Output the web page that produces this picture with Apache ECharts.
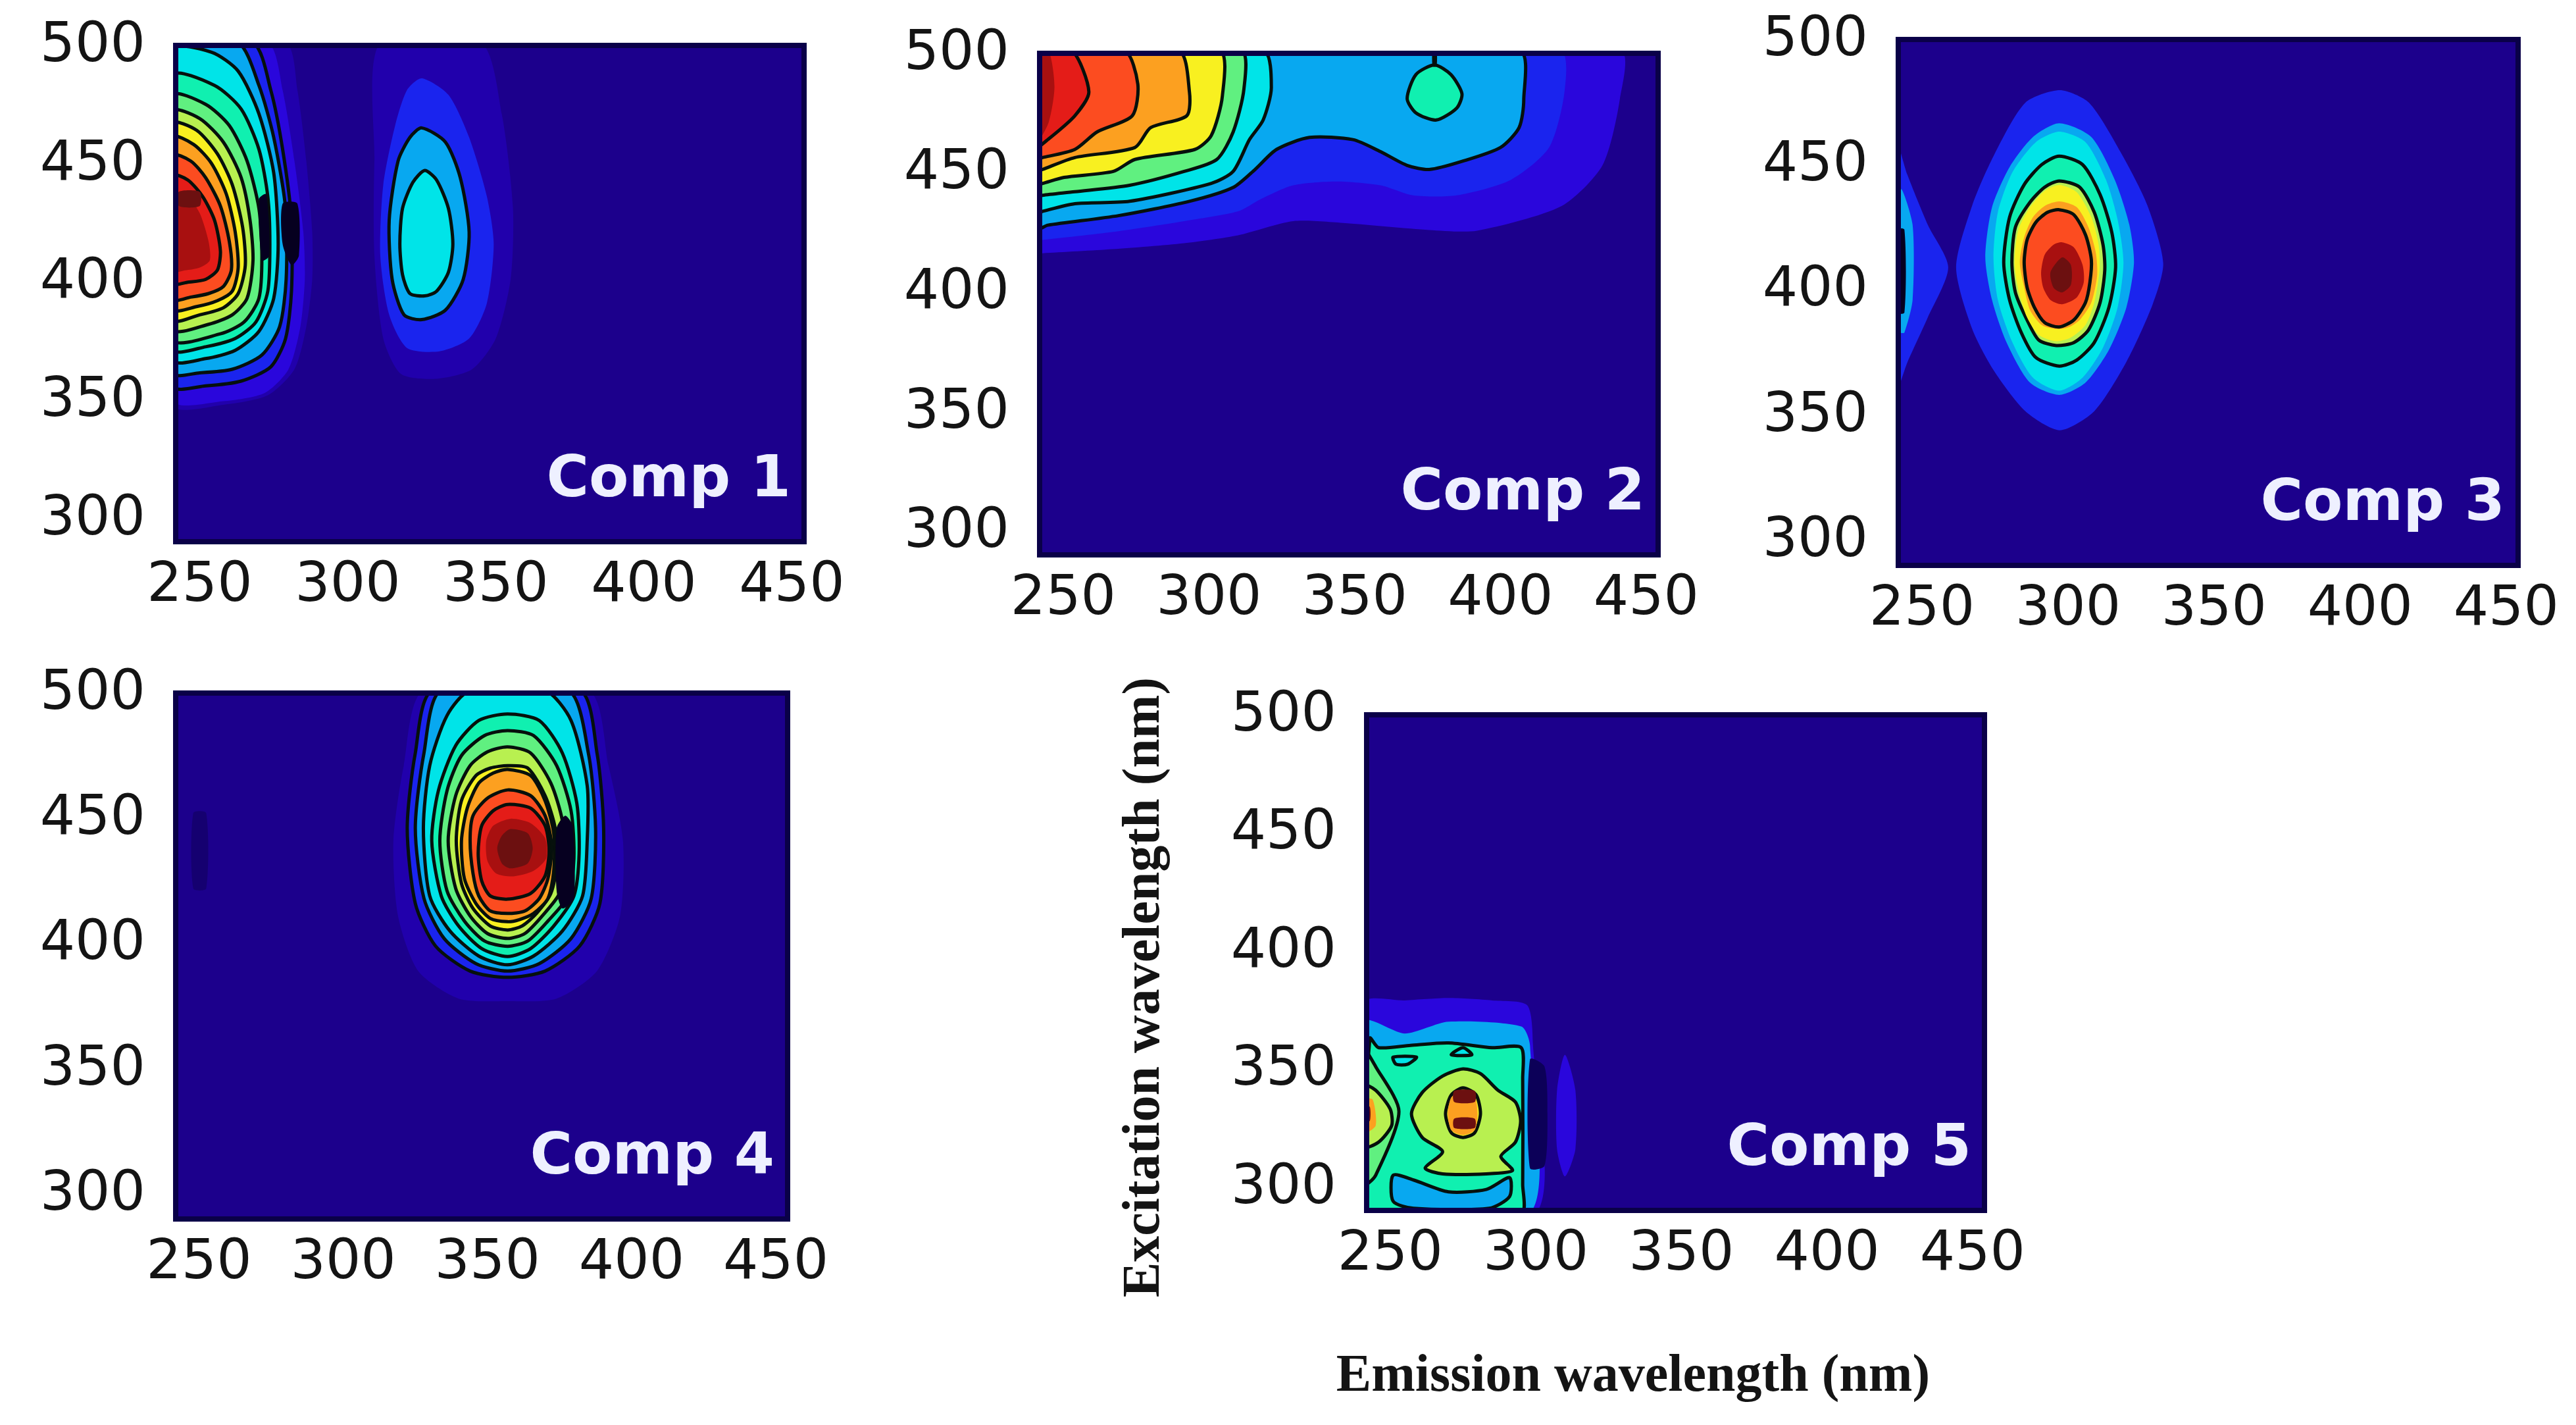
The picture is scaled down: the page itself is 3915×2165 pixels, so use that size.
<!DOCTYPE html>
<html><head><meta charset="utf-8">
<style>html,body{margin:0;padding:0;background:#fff}#c{width:3915px;height:2165px}</style>
<script src="https://cdn.jsdelivr.net/npm/echarts@6/dist/echarts.min.js"></script>
</head><body><div id="c"></div>
<script>
// Tick labels (nm)
const emissionTicks = [250, 300, 350, 400, 450];
const excitationTicks = [300, 350, 400, 450, 500];
const panelNames = ['Comp 1', 'Comp 2', 'Comp 3', 'Comp 4', 'Comp 5'];
const xTitle = 'Emission wavelength (nm)';
const yTitle = 'Excitation wavelength (nm)';

// Fill colour of each contour level
const levelColors = ['#2100ac','#2a06dc','#1a24ee','#0878f0','#08a8f0','#00e4e8','#10f0b0','#60f080','#b8f050','#f8f020','#fca020','#fc4c20','#e41c18','#a81010','#6c1010','#060020','#0c0058','#150070'];

// Contours: [level, outlined, [[emission, excitation], ...]]
const comp1 = [
 [0,0,[[241,500],[279,500],[283,480],[286,450],[288,420],[288,400],[286,380],[282,362],[273,351],[258,347],[241,347]]],
 [1,0,[[241,500],[273,500],[278,480],[282,450],[285,420],[285.5,400],[284,380],[280,362],[272,352],[258,348.5],[241,349]]],
 [2,1,[[241,500],[268,500],[274,480],[278,455],[281,425],[281,395],[279,375],[274,363],[264,357],[252,355],[241,355]]],
 [4,1,[[241,500],[263,500],[270,482],[275,460],[279,430],[279.2,400],[277,380],[271,368],[261,362],[250,360.5],[241,360.5]]],
 [5,1,[[241,497],[254,496],[263,488],[270,470],[275,445],[276.5,415],[275,392],[270,378],[262,370],[252,366.5],[241,366]]],
 [6,1,[[241,486],[255,482],[264,472],[270,455],[273,435],[273.7,415],[273,395],[269,382],[262,375],[252,371.5],[241,370.5]]],
 [7,1,[[241,477.6],[252,474],[260,465],[266,450],[270,430],[271,410],[270,392],[265,382],[257,377],[241,374.7]]],
 [8,1,[[241,471],[250,468],[258,458],[264,443],[267,425],[268,408],[266,392],[261,385],[253,381],[241,379]]],
 [9,1,[[241,465.8],[249,463],[256,453],[261,440],[264.5,422],[265.4,406],[263,394],[258,388],[250,385],[241,383]]],
 [10,1,[[241,460],[248,457],[254,449],[259,436],[262,420],[263,405],[261,395],[256,391],[249,388.5],[241,387.4]]],
 [11,1,[[241,452.3],[247,450],[252,443],[257,431],[260,416],[260.7,404],[258,397],[253,394],[247,392.5],[241,391.6]]],
 [12,1,[[241,443.8],[246,442],[251,435],[255,425],[257,412],[256,404],[252,400],[246,398.8],[241,398.3]]],
 [13,0,[[241,437],[246,435],[250,428],[253,416],[253.4,408],[250,405],[245,403.8],[241,403.4]]],
 [14,0,[[243,437],[250,437],[250,431],[243,431]]],
 [15,0,[[278,432],[283,432],[283.5,410],[281,406],[278,415]]],
 [15,0,[[270,434],[272.5,436],[273.5,410],[271,408]]],
 [0,0,[[311,500],[345,500],[352,470],[355.8,430],[355,400],[350,375],[342,362],[330,358],[318,360],[312,375],[309,410],[309,450]]],
 [2,0,[[325,485],[334,478],[341,460],[347,435],[349.3,415],[347,390],[341,375],[331,369.6],[320,371],[314,385],[311,410],[312,440],[316,465],[320,480]]],
 [4,1,[[325,464],[333,458],[338,443],[341,420],[339,400],[333,387],[325,383],[319,385],[315,400],[314,425],[317,450],[321,460]]],
 [5,1,[[326,446],[330,442],[334,430],[335.5,415],[334,403],[330,395],[326,393],[321,394],[318.5,402],[317.6,415],[318.5,430],[322,441]]]
];
const comp2 = [
 [1,0,[[441,500],[441,480],[435,452],[421,435],[392,424.7],[375.6,425],[347.5,427.8],[328.9,428.7],[310,422.8],[291.5,419.5],[267,417],[243,415.3],[241,415],[241,500]]],
 [2,0,[[420.4,500],[422,483],[416.7,459.5],[403.6,446],[385,439.5],[370,439.5],[358.8,443.7],[343.8,445.3],[328.9,443.7],[317.6,437.8],[310,432.8],[291.5,428.7],[269,424.5],[243.8,421],[241,421],[241,500]]],
 [4,1,[[406.4,500],[408,479.5],[406.4,467.8],[400,459.5],[386.8,453.7],[375.6,450.3],[368,452],[358.8,457.8],[349.4,462.8],[334.5,463.7],[323.2,458.7],[315.8,450.3],[308.3,442.8],[293.3,437],[269,431],[244.7,427],[241,425.5],[241,500]]],
 [5,1,[[318.6,500],[321.4,484.5],[318.6,471],[313.9,462.8],[308.3,449.5],[300.8,444.5],[272.8,437],[254,436],[242.9,432.8],[241,432],[241,500]]],
 [7,1,[[311,500],[312,484],[308.3,466],[302.7,454.5],[291.5,449.5],[272.8,443.7],[254,441],[242.9,439.5],[241,439],[241,500]]],
 [9,1,[[303.6,500],[304.6,481],[300.8,464.5],[295.2,458.7],[274.6,454.5],[267.2,449.5],[250.3,447],[243,444.5],[241,444],[241,500]]],
 [10,1,[[289.6,500],[293.3,482.8],[292.4,472.8],[280,467.8],[274.6,459.5],[254,455.3],[242.9,450.3],[241,449.5],[241,500]]],
 [11,1,[[271,500],[275.6,486],[273.7,472.8],[261.6,466],[254,458.7],[242.9,455.3],[241,455],[241,500]]],
 [12,1,[[253,500],[258.8,482.8],[254,472.8],[244.7,462.8],[241,460],[241,500]]],
 [13,0,[[241,500],[245,500],[247,485],[245,470],[241,462]]],
 [6,1,[[377.4,494],[383,490],[386.8,482],[385,476],[378,471],[371,474],[368,480],[371,490]]],
 [6,1,[[377.2,500],[377.6,500],[377.6,494],[377.2,494]]]
];
const comp3 = [
 [2,0,[[241,459],[245,445],[252,425],[259,408],[252,388],[245,370],[241,358]]],
 [4,0,[[242.8,439],[246.8,425],[246.8,395],[244,382],[242.8,382]]],
 [15,0,[[241,423],[244,423],[244,390],[241,390]]],
 [2,0,[[297.2,478.7],[307.2,473.7],[318,454],[327.2,432.7],[332.6,409.7],[329,393.3],[320,370.3],[309,350.6],[297.2,343],[285.4,350.6],[274.5,367],[267.2,383.4],[261.7,408],[267.2,432.7],[274.5,452.4],[285.4,473.7]]],
 [4,0,[[297,465.5],[308,460],[316,443],[321,425],[322.6,410],[320,392],[314,375],[306,362],[297,357.1],[287,362],[279,378],[274,395],[271.7,412],[274,432],[280,448],[288,460]]],
 [5,0,[[297,462.2],[306,458],[313,443],[317,427],[319,410],[317,392],[312,376],[305,364],[297,358.8],[288,364],[281,378],[276,395],[274.5,412],[276,430],[281,446],[289,458]]],
 [6,1,[[297,452.4],[305,449],[311,437],[315,422],[316.3,408],[314,392],[309,378],[303,371],[297,368.6],[289,372],[284,382],[280,395],[278,410],[280,428],[285,441],[291,449]]],
 [8,1,[[297,442.5],[304,440],[309,430],[312,417],[312.6,407],[311,394],[307,383],[302,378],[296,376.8],[290,379],[286,387],[282,398],[280.8,410],[282,424],[287,434],[292,440]]],
 [9,0,[[297,440.9],[303,438],[308,428],[310.5,417],[310.8,407],[309,394],[306,385],[301,380],[296,378.5],[290,381],[286,388],[283,399],[281.7,410],[283,423],[287,432],[292,438.5]]],
 [10,0,[[297,434.3],[303,432],[307,424],[309.5,414],[310,405],[308,394],[304,387],[300,384],[296,383.4],[291,385],[287,391],[285,400],[283.5,410],[285,420],[288,428],[292,432.5]]],
 [11,1,[[297,431],[302,429],[306,421],[308,411],[307.5,402],[306,394],[302,387],[297,384.2],[292,386],[288.5,392],[286,400],[285,410],[286,419],[289,426],[293,430]]],
 [13,0,[[298,418],[302,416],[305,409],[305.4,402],[303,396],[298,393.3],[294,395],[291.5,400],[290.8,406],[292,413],[295,417]]],
 [14,0,[[298,412],[301,409],[301,401],[298,398],[295,400],[294,406]]]
];
const comp4 = [
 [17,0,[[248,451],[252.5,451],[252.5,421],[248,421]]],
 [0,0,[[328,500],[385,500],[392,470],[397,440],[396,410],[388,388],[374,377],[357,376],[340,377],[326,388],[319,410],[317.4,440],[321,470]]],
 [2,1,[[331,500],[382,500],[388,475],[390.3,445],[389,415],[382,398],[370,388],[357,385.5],[344,388],[332,398],[325,415],[322.2,445],[325,475]]],
 [4,1,[[334,500],[378,500],[385,475],[387.5,445],[386,417],[379,401],[368,391],[357,388],[346,391],[335,401],[328,417],[325,445],[328,475]]],
 [5,1,[[344,500],[370,500],[379,488],[384.6,462],[384.6,440],[383,418],[376,404],[366,394],[357,390.5],[347,394],[337,404],[330,418],[327.8,445],[330,470],[336,490]]],
 [6,1,[[357,490.6],[368,488],[376,475],[381,455],[381.8,435],[380,418],[373,406],[365,397],[357,393.8],[348,397],[340,406],[334,418],[330.7,440],[333,460],[339,478],[347,488]]],
 [7,1,[[357,484],[366,482],[374,470],[379,452],[380,433],[378,418],[371,408],[364,400],[357,397.9],[349,400],[342,408],[336,420],[333.5,440],[336,460],[341,474],[349,482]]],
 [8,1,[[357,477.5],[365,475],[372,463],[376,448],[377,432],[375,419],[369,410],[363,403],[357,401],[350,403],[344,410],[339,421],[336.4,440],[339,458],[344,470],[350,475.5]]],
 [9,1,[[357,470],[364,469],[370,458],[373.5,445],[374,430],[372,419],[367,411],[362,406],[357,404.4],[351,406],[345,413],[341,423],[339.2,440],[341,456],[346,466],[351,469]]],
 [10,1,[[357,468.5],[365,466],[370,456],[373,443],[373,428],[371,417],[366,411],[361,408.5],[357,407.7],[351,409],[346,415],[342,425],[341,440],[343,453],[347,463],[352,467]]],
 [11,1,[[357,460.3],[365,458],[370,450],[372.3,438],[371,425],[368,417],[363,412],[357,411],[351,412],[347,418],[345,427],[344,440],[345,450],[350,457]]],
 [12,1,[[357,454.5],[365,453],[370,446],[371.4,436],[370,426],[365,419],[357,416.7],[351,418],[348,424],[346.8,435],[348,446],[352,452]]],
 [13,0,[[358,448.8],[365,447],[370,441],[370.4,433],[366,428],[359,425.8],[353,427],[350,432],[349.6,440],[352,446]]],
 [14,0,[[358,444.7],[364,443],[365.7,437],[364,431],[358,429],[355,431],[353.4,437],[355,442]]],
 [15,0,[[374,445],[377,450],[379.5,446],[380,417],[376,413],[374,420]]]
];
const comp5 = [
 [1,0,[[241,377],[255,378],[270,379],[285,378],[297,376],[299,360],[300,288],[241,288]]],
 [4,0,[[241,369],[255,364],[270,369],[295,367],[298,359],[298,288],[241,288]]],
 [6,1,[[243,362],[246,358],[257,359],[270,360],[285,358],[295,358],[295.5,345],[295.5,300],[295,288],[243,288]]],
 [4,1,[[251,304],[258,302],[270,297],[283,298],[291,303],[291,295],[284,290],[258,290],[251,293]]],
 [7,1,[[241,357],[245,350],[253,331],[245,304],[241,300]]],
 [8,1,[[275,349],[281,347],[287,340],[293,335],[294.8,327],[293,318],[288,312],[292,306],[283,304.6],[268,304.6],[262,307],[268,314],[261,320],[257.3,330],[261,339],[268,346]]],
 [8,1,[[241,342],[245,340],[250,332],[250.5,325],[246,318],[241,316]]],
 [10,0,[[241,336],[244,336],[245,325],[241,322]]],
 [14,0,[[241,333],[243,333],[243,327],[241,327]]],
 [5,1,[[251,354],[259,354],[256,351],[252,351]]],
 [5,1,[[271,355],[278,355],[275,358]]],
 [9,1,[[275,341],[279.5,338],[281,330],[279,322],[275,320],[271,322],[269,330],[271,338]]],
 [10,0,[[275,339.7],[279,337],[280,330],[279,323],[275,321],[271,323],[269.8,330],[271,337]]],
 [14,0,[[272,339.7],[279,339.7],[279,335],[272,335]]],
 [14,0,[[272,328],[279,328],[279,324],[272,324]]],
 [16,0,[[298,353],[303,350],[304,330],[303,308],[298,307]]],
 [1,0,[[310,355],[313.6,340],[313.6,315],[310,303.5],[307.3,315],[307.3,340]]]
];
const panelContours = [comp1, comp2, comp3, comp4, comp5];

// Layout of the five plot boxes (pixels)
const boxes = [
 {left:263,top:65,width:963,height:762},
 {left:1576,top:77,width:948,height:770},
 {left:2881,top:56,width:950,height:807},
 {left:263,top:1049,width:938,height:807},
 {left:2073,top:1082,width:947,height:761}
];
const xRange = [241, 455];
const yRange = [288, 500];
const bg = '#1c008c';

const grid = [], xAxis = [], yAxis = [], series = [], title = [];
boxes.forEach((b, i) => {
  grid.push({left:b.left, top:b.top, width:b.width, height:b.height, show:true, backgroundColor:bg, borderWidth:0, containLabel:false});
  xAxis.push({gridIndex:i, type:'value', min:xRange[0], max:xRange[1],
    splitLine:{show:false}, axisLine:{show:false}, axisTick:{show:false},
    axisLabel:{customValues:emissionTicks, margin:22, color:'#141414', fontFamily:'DejaVu Sans', fontSize:84, showMinLabel:true, showMaxLabel:true, hideOverlap:false}});
  yAxis.push({gridIndex:i, type:'value', min:yRange[0], max:yRange[1],
    splitLine:{show:false}, axisLine:{show:false}, axisTick:{show:false},
    axisLabel:{customValues:excitationTicks, margin:42, color:'#141414', showMinLabel:true, showMaxLabel:true, hideOverlap:false,
      formatter:v => '{t|' + v + '}',
      rich:{t:{fontFamily:'DejaVu Sans', fontSize:84, color:'#141414', padding:[12,0,0,0]}}}});
  const contours = panelContours[i];
  series.push({type:'custom', xAxisIndex:i, yAxisIndex:i, clip:true, silent:true, coordinateSystem:'cartesian2d',
    data: contours.map((c, k) => [c[2][0][0], c[2][0][1], k]),
    encode:{x:0, y:1},
    renderItem:(params, api) => {
      const c = contours[api.value(2)];
      return {type:'polygon', shape:{points:c[2].map(p => api.coord(p)), smooth:0.25},
        style:{fill:levelColors[c[0]], stroke:c[1] ? '#06100c' : null, lineWidth:c[1] ? 5 : 0}};
    }});
  series.push({type:'custom', xAxisIndex:i, yAxisIndex:i, clip:false, silent:true, coordinateSystem:'cartesian2d', z:5,
    data:[[xRange[0], yRange[1]]], encode:{x:0, y:1},
    renderItem:(params, api) => {
      const a = api.coord([xRange[0], yRange[1]]), z = api.coord([xRange[1], yRange[0]]);
      return {type:'rect', shape:{x:a[0]+4, y:a[1]+4, width:z[0]-a[0]-8, height:z[1]-a[1]-8},
        style:{fill:null, stroke:'#0a0048', lineWidth:8}};
    }});
  title.push({text:panelNames[i], right:3915 - (b.left + b.width) + 24, top:b.top + b.height - 140,
    padding:0, textStyle:{color:'#eef0ff', fontFamily:'DejaVu Sans', fontWeight:'bold', fontSize:88}});
});

const chart = echarts.init(document.getElementById('c'), null, {renderer:'canvas', width:3915, height:2165});
chart.setOption({
  animation:false, backgroundColor:'#ffffff', title, grid, xAxis, yAxis, series,
  graphic:[
    {type:'text', x:1740, y:1500, rotation:Math.PI/2, style:{text:yTitle, font:'bold 80px "Liberation Serif"', fill:'#141414', align:'center', verticalAlign:'middle'}},
    {type:'text', x:2482, y:2092, style:{text:xTitle, font:'bold 80px "Liberation Serif"', fill:'#141414', align:'center', verticalAlign:'middle'}}
  ]
});
</script></body></html>
